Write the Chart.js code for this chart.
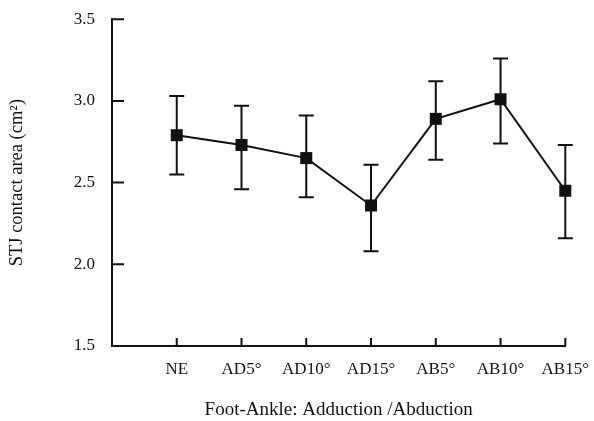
<!DOCTYPE html>
<html>
<head>
<meta charset="utf-8">
<script src="https://cdn.jsdelivr.net/npm/chart.js@4/dist/chart.umd.min.js"></script>
<style>
  html, body { margin: 0; padding: 0; background: #fff; }
</style>
</head>
<body>
<canvas id="g" width="594" height="421"></canvas>
<script>
/* STJ contact area — moyenne ± écart-type par position du pied */
var categories = ["NE", "AD5°", "AD10°", "AD15°", "AB5°", "AB10°", "AB15°"];
var moyennes = [2.79, 2.73, 2.65, 2.36, 2.89, 3.01, 2.45];
var hauts = [3.03, 2.97, 2.91, 2.61, 3.12, 3.26, 2.73];
var bas = [2.55, 2.46, 2.41, 2.08, 2.64, 2.74, 2.16];
var yTicks = [1.5, 2.0, 2.5, 3.0, 3.5];

(function () {
  "use strict";
  var NOIR = "#111";
  var SERIF = "'Liberation Serif', 'DejaVu Serif', serif";

  var points = moyennes.map(function (v, i) { return { x: i + 1, y: v }; });

  // barres d'erreur + petits traits vers l'intérieur
  var extras = {
    id: "extras",
    beforeDatasetsDraw: function (chart) {
      var c = chart.ctx, sx = chart.scales.x, sy = chart.scales.y;
      c.save();
      c.strokeStyle = NOIR;
      c.lineWidth = 2;
      moyennes.forEach(function (v, i) {
        var x = sx.getPixelForValue(i + 1);
        var yh = sy.getPixelForValue(hauts[i]), yb = sy.getPixelForValue(bas[i]);
        c.beginPath();
        c.moveTo(x, yh); c.lineTo(x, yb);
        c.moveTo(x - 7.5, yh); c.lineTo(x + 7.5, yh);
        c.moveTo(x - 7.5, yb); c.lineTo(x + 7.5, yb);
        c.stroke();
      });
      c.restore();
    },
    afterDraw: function (chart) {
      var c = chart.ctx, sx = chart.scales.x, sy = chart.scales.y, a = chart.chartArea;
      c.save();
      c.strokeStyle = NOIR;
      c.lineWidth = 2;
      c.beginPath();
      yTicks.forEach(function (t) {
        var y = sy.getPixelForValue(t);
        c.moveTo(a.left, y); c.lineTo(a.left + 12, y);
      });
      categories.forEach(function (n, i) {
        var x = sx.getPixelForValue(i + 1);
        c.moveTo(x, a.bottom); c.lineTo(x, a.bottom - 8);
      });
      c.stroke();
      c.restore();
    }
  };

  new Chart(document.getElementById("g"), {
    type: "line",
    data: {
      datasets: [{
        data: points,
        borderColor: NOIR,
        borderWidth: 2,
        backgroundColor: NOIR,
        pointStyle: "rect",
        pointRadius: 8.5,
        pointBackgroundColor: NOIR,
        pointBorderWidth: 0,
        tension: 0,
        clip: false
      }]
    },
    options: {
      responsive: false,
      animation: false,
      devicePixelRatio: 1,
      layout: { padding: { top: 17, right: 18, left: 0, bottom: 0 } },
      plugins: { legend: { display: false }, tooltip: { enabled: false } },
      scales: {
        x: {
          type: "linear", min: 0, max: 7,
          afterBuildTicks: function (s) { s.ticks = categories.map(function (n, i) { return { value: i + 1 }; }); },
          afterFit: function (s) { s.height = 75; },
          grid: { display: false },
          border: { display: true, color: NOIR, width: 2 },
          ticks: {
            color: NOIR, padding: 5, maxRotation: 0, autoSkip: false,
            font: { family: SERIF, size: 17 },
            callback: function (v) { return categories[v - 1] || ""; }
          },
          title: {
            display: true, text: "Foot-Ankle: Adduction /Abduction", color: NOIR,
            font: { family: SERIF, size: 19 }, padding: { top: 27, bottom: 0 }
          }
        },
        y: {
          min: 1.5, max: 3.5,
          afterBuildTicks: function (s) { s.ticks = yTicks.map(function (t) { return { value: t }; }); },
          afterFit: function (s) { s.width = 112; },
          grid: { display: false },
          border: { display: true, color: NOIR, width: 2 },
          ticks: {
            color: NOIR, padding: 9,
            font: { family: SERIF, size: 17 },
            callback: function (v) { return v.toFixed(1); }
          },
          title: {
            display: true, text: "STJ contact area (cm²)", color: NOIR,
            font: { family: SERIF, size: 18.5 }, padding: { top: 6, bottom: 0 }
          }
        }
      }
    },
    plugins: [extras]
  });
})();
</script>
</body>
</html>
